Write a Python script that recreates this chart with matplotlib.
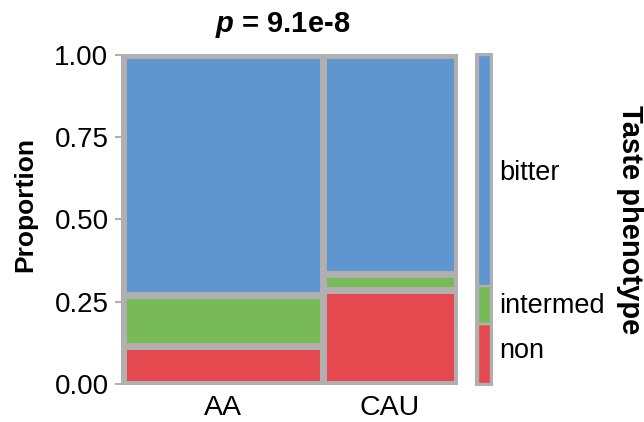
import matplotlib.pyplot as plt
import numpy as np

plt.rcParams['font.family'] = ['Liberation Sans', 'DejaVu Sans']
plt.rcParams['mathtext.fontset'] = 'custom'
plt.rcParams['mathtext.bfit'] = 'Liberation Sans:italic:bold'

groups = ['AA', 'CAU']
group_share = [0.60, 0.40]          # column widths (sample share)
phenotypes = ['non', 'intermed', 'bitter']
props = {
    'AA':  [0.115, 0.157, 0.728],
    'CAU': [0.286, 0.049, 0.665],
}
colors = ['#e44950', '#78ba57', '#6096d0']
gray = '#b1afaf'

fig = plt.figure(figsize=(6.44, 4.22), dpi=100)

# main mosaic
ax = fig.add_axes([121/644, 37/422, 337/644, 331/422])
ax.set_facecolor(gray)
left = 0
centers = []
for g, w in zip(groups, group_share):
    bottom = 0
    for p, c in zip(props[g], colors):
        ax.bar(left, p, width=w, bottom=bottom, align='edge', color=c,
               edgecolor=gray, linewidth=5)
        bottom += p
    centers.append(left + w / 2)
    left += w
ax.set_xlim(-0.0045, 1.0036)
ax.set_ylim(-0.003, 1.003)
for s in ax.spines.values():
    s.set_visible(False)
ax.set_yticks([0, 0.25, 0.5, 0.75, 1.0])
ax.set_yticklabels(['0.00', '0.25', '0.50', '0.75', '1.00'])
ax.set_xticks(centers)
ax.set_xticklabels(groups)
ax.tick_params(axis='y', length=4, width=1.5, color=gray, pad=5, labelsize=20)
ax.tick_params(axis='x', length=0, pad=7, labelsize=20.5)

fig.text(25/644, 1 - 205/422, 'Proportion', rotation=90, ha='center', va='center',
         fontsize=19, fontweight='bold')
fig.text(283/644, 1 - 25/422, r'$\mathbfit{p}$ = 9.1e-8', ha='center', va='center',
         fontsize=21, fontweight='bold')

# marginal legend bar
marg = np.array([sum(props[g][i] * w for g, w in zip(groups, group_share))
                 for i in range(len(phenotypes))])
lax = fig.add_axes([475/644, 36.3/422, 18.3/644, 332.4/422])
lax.set_facecolor(gray)
b = 0
for name, m, c in zip(phenotypes, marg, colors):
    lax.bar(0.15, m, width=0.7, bottom=b, align='edge', color=c,
            edgecolor=gray, linewidth=1.7)
    b += m
lax.set_xlim(0, 1)
lax.set_ylim(-0.005, 1.005)
lax.set_xticks([])
lax.set_yticks([])
for s in lax.spines.values():
    s.set_visible(False)

label_y = {'bitter': 173, 'intermed': 306, 'non': 351}
for name in phenotypes:
    fig.text(499/644, 1 - label_y[name]/422, name, ha='left', va='center', fontsize=19.5)

fig.text(630/644, 1 - 220/422, 'Taste phenotype', rotation=-90, ha='center', va='center',
         fontsize=21, fontweight='bold')

fig.savefig('out.png', dpi=100)
